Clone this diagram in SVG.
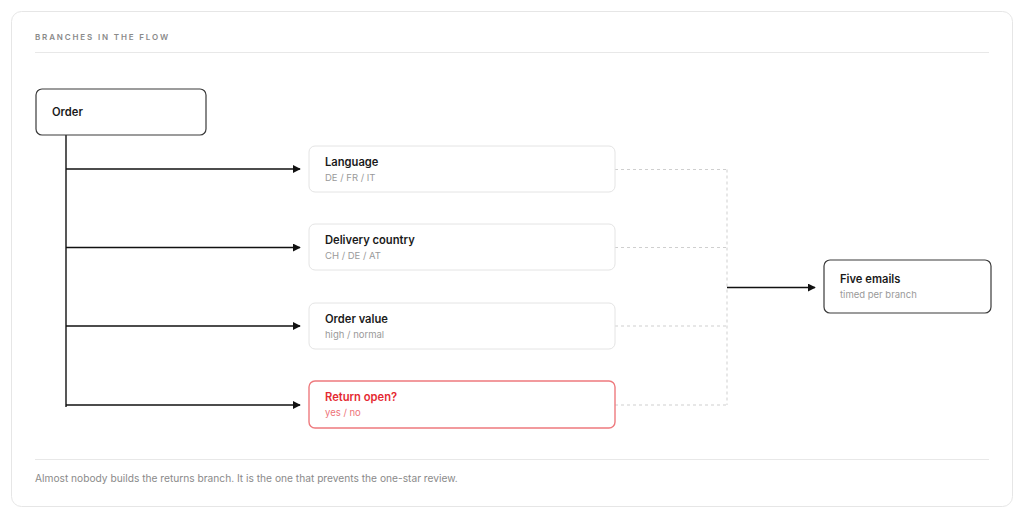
<svg xmlns="http://www.w3.org/2000/svg" width="1024" height="518" viewBox="0 0 1024 518">
<style>
.card{fill:#fff;stroke:#e6e6e6;stroke-width:1}
.rule{stroke:#e8e8e8;stroke-width:1}
.hdr{font-family:Inter,"Liberation Sans",sans-serif;font-size:8px;font-weight:600;letter-spacing:1.85px;fill:#8a8a8a}
.foot{font-family:Inter,"Liberation Sans",sans-serif;font-size:10.2px;fill:#8a8a8a}
.strong{fill:#fff;stroke:#3a3a3a;stroke-width:1.2}
.soft{fill:#fff;stroke:#e4e4e4;stroke-width:1}
.warn{fill:#fff;stroke:#ee7a7e;stroke-width:1.4}
.t{font-family:Inter,"Liberation Sans",sans-serif;font-size:11.2px;font-weight:600;fill:#1a1a1a}
.s{font-family:Inter,"Liberation Sans",sans-serif;font-size:9.5px;fill:#9a9a9a}
.tr{fill:#e52a32}
.sr{fill:#ee7479}
.solid{stroke:#111;stroke-width:1.4;fill:none}
.dash{stroke:#cfcfcf;stroke-width:1;stroke-dasharray:3 3;fill:none}
</style>
<defs>
<marker id="ah" viewBox="0 0 10 10" refX="9" refY="5" markerWidth="8" markerHeight="8" markerUnits="userSpaceOnUse" orient="auto">
<path d="M0,0 L10,5 L0,10 z" fill="#111"/>
</marker>
</defs>
<rect class="card" x="11.5" y="11.5" width="1001" height="495" rx="10"/>
<text class="hdr" x="35" y="40">BRANCHES IN THE FLOW</text>
<line class="rule" x1="35" y1="52.5" x2="989" y2="52.5"/>
<line class="rule" x1="35" y1="459.5" x2="989" y2="459.5"/>
<text class="foot" x="35" y="482">Almost nobody builds the returns branch. It is the one that prevents the one-star review.</text>

<g id="connectors">
<line class="solid" x1="66" y1="135" x2="66" y2="407"/>
<line class="solid" x1="66" y1="169" x2="300" y2="169" marker-end="url(#ah)"/>
<line class="solid" x1="66" y1="247.5" x2="300" y2="247.5" marker-end="url(#ah)"/>
<line class="solid" x1="66" y1="326" x2="300" y2="326" marker-end="url(#ah)"/>
<line class="solid" x1="66" y1="405" x2="300" y2="405" marker-end="url(#ah)"/>
<path class="dash" d="M615,169.5 H727 M615,247.5 H727 M615,326 H727 M615,405 H727 M727,169.5 V405"/>
<line class="solid" x1="727" y1="287.5" x2="815" y2="287.5" marker-end="url(#ah)"/>
</g>

<g id="order">
<rect class="strong" x="36" y="89" width="170" height="46" rx="6"/>
<text class="t" x="52" y="116">Order</text>
</g>
<g id="language">
<rect class="soft" x="309" y="146" width="306" height="46" rx="6"/>
<text class="t" x="325" y="166">Language</text>
<text class="s" x="325" y="181">DE / FR / IT</text>
</g>
<g id="delivery">
<rect class="soft" x="309" y="224" width="306" height="46" rx="6"/>
<text class="t" x="325" y="244">Delivery country</text>
<text class="s" x="325" y="259">CH / DE / AT</text>
</g>
<g id="value">
<rect class="soft" x="309" y="303" width="306" height="46" rx="6"/>
<text class="t" x="325" y="323">Order value</text>
<text class="s" x="325" y="338">high / normal</text>
</g>
<g id="return">
<rect class="warn" x="309" y="381" width="306" height="47" rx="6"/>
<text class="t tr" x="325" y="401">Return open?</text>
<text class="s sr" x="325" y="416">yes / no</text>
</g>
<g id="emails">
<rect class="strong" x="824" y="260" width="167" height="53" rx="6"/>
<text class="t" x="840" y="283">Five emails</text>
<text class="s" x="840" y="298">timed per branch</text>
</g>
</svg>
